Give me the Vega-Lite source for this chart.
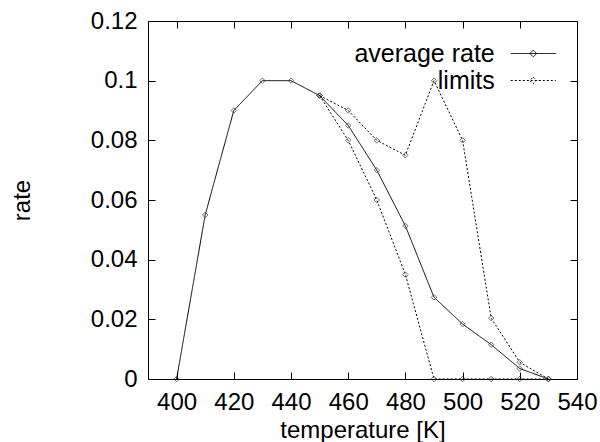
{
  "$schema": "https://vega.github.io/schema/vega-lite/v6.json",
  "autosize": {"type": "none"},
  "width": 429,
  "height": 358,
  "padding": {"left": 148, "top": 21, "right": 23, "bottom": 63},
  "background": "white",
  "config": {
    "font": "Liberation Sans",
    "view": {"stroke": "black", "strokeWidth": 1},
    "axis": {"labelFont": "Liberation Sans", "titleFont": "Liberation Sans", "labelFontSize": 24, "titleFontSize": 24, "titleFontWeight": "normal", "labelColor": "black", "titleColor": "black", "domain": false, "grid": false, "tickColor": "black", "tickSize": -7, "labelPadding": 10, "labelOverlap": false, "labelFlush": false, "labelBound": false}
  },
  "data": {"values": [
    {"t": 400, "rate": 0, "kind": "average rate", "curve": "avg"},
    {"t": 410, "rate": 0.055, "kind": "average rate", "curve": "avg"},
    {"t": 420, "rate": 0.09, "kind": "average rate", "curve": "avg"},
    {"t": 430, "rate": 0.1, "kind": "average rate", "curve": "avg"},
    {"t": 440, "rate": 0.1, "kind": "average rate", "curve": "avg"},
    {"t": 450, "rate": 0.095, "kind": "average rate", "curve": "avg"},
    {"t": 460, "rate": 0.085, "kind": "average rate", "curve": "avg"},
    {"t": 470, "rate": 0.07, "kind": "average rate", "curve": "avg"},
    {"t": 480, "rate": 0.0513, "kind": "average rate", "curve": "avg"},
    {"t": 490, "rate": 0.0274, "kind": "average rate", "curve": "avg"},
    {"t": 500, "rate": 0.0184, "kind": "average rate", "curve": "avg"},
    {"t": 510, "rate": 0.0115, "kind": "average rate", "curve": "avg"},
    {"t": 520, "rate": 0.0035, "kind": "average rate", "curve": "avg"},
    {"t": 530, "rate": 0, "kind": "average rate", "curve": "avg"},
    {"t": 450, "rate": 0.095, "kind": "limits", "curve": "upper"},
    {"t": 460, "rate": 0.09, "kind": "limits", "curve": "upper"},
    {"t": 470, "rate": 0.08, "kind": "limits", "curve": "upper"},
    {"t": 480, "rate": 0.075, "kind": "limits", "curve": "upper"},
    {"t": 490, "rate": 0.1, "kind": "limits", "curve": "upper"},
    {"t": 500, "rate": 0.08, "kind": "limits", "curve": "upper"},
    {"t": 510, "rate": 0.0204, "kind": "limits", "curve": "upper"},
    {"t": 520, "rate": 0.0056, "kind": "limits", "curve": "upper"},
    {"t": 530, "rate": 0, "kind": "limits", "curve": "upper"},
    {"t": 450, "rate": 0.095, "kind": "limits", "curve": "lower"},
    {"t": 460, "rate": 0.08, "kind": "limits", "curve": "lower"},
    {"t": 470, "rate": 0.06, "kind": "limits", "curve": "lower"},
    {"t": 480, "rate": 0.035, "kind": "limits", "curve": "lower"},
    {"t": 490, "rate": 0, "kind": "limits", "curve": "lower"},
    {"t": 500, "rate": 0, "kind": "limits", "curve": "lower"},
    {"t": 510, "rate": 0, "kind": "limits", "curve": "lower"},
    {"t": 520, "rate": 0, "kind": "limits", "curve": "lower"},
    {"t": 530, "rate": 0, "kind": "limits", "curve": "lower"}
  ]},
  "resolve": {"axis": {"x": "independent", "y": "independent"}},
  "layer": [
    {
      "mark": {"type": "line", "strokeWidth": 1, "color": "black"},
      "encoding": {
        "x": {"field": "t", "type": "quantitative", "scale": {"domain": [390, 540], "nice": false, "zero": false}, "axis": {"orient": "bottom", "title": "temperature [K]", "values": [400, 420, 440, 460, 480, 500, 520, 540], "labelPadding": 18, "titlePadding": 4}},
        "y": {"field": "rate", "type": "quantitative", "scale": {"domain": [0, 0.12], "nice": false}, "axis": {"orient": "left", "title": "rate", "values": [0, 0.02, 0.04, 0.06, 0.08, 0.1, 0.12], "labelExpr": "format(datum.value, '.2~f')", "labelPadding": 18, "titlePadding": 56}},
        "detail": {"field": "curve"},
        "strokeDash": {"field": "kind", "type": "nominal", "scale": {"domain": ["average rate", "limits"], "range": [[1, 0], [2, 2]]},
          "legend": {"orient": "none", "legendX": 372.75, "legendY": 20, "title": null, "padding": 0, "symbolType": "M-2,0H2M0,-0.3L0.3,0L0,0.3L-0.3,0Z", "symbolSize": 506, "symbolStrokeWidth": 1, "symbolStrokeColor": "black", "labelFontSize": 25, "labelAlign": "right", "labelOffset": -51, "labelColor": "black", "rowPadding": 1, "labelFont": "Liberation Sans"}}
      }
    },
    {
      "mark": {"type": "point", "shape": "diamond", "filled": false, "size": 30, "strokeWidth": 1, "color": "#333333"},
      "encoding": {
        "x": {"field": "t", "type": "quantitative", "axis": null},
        "y": {"field": "rate", "type": "quantitative", "axis": null}
      }
    },
    {
      "mark": {"type": "point", "opacity": 0},
      "encoding": {
        "x": {"field": "t", "type": "quantitative", "axis": {"orient": "top", "title": null, "labels": false, "values": [400, 420, 440, 460, 480, 500, 520, 540]}},
        "y": {"field": "rate", "type": "quantitative", "axis": {"orient": "right", "title": null, "labels": false, "values": [0, 0.02, 0.04, 0.06, 0.08, 0.1, 0.12]}}
      }
    }
  ]
}
